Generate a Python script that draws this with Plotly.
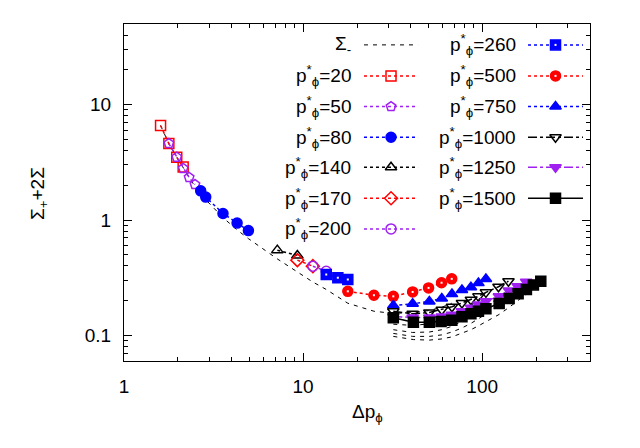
import plotly.graph_objects as go

# ---------------------------------------------------------------------------
# Data
# ---------------------------------------------------------------------------

dp_20 = [1.60, 1.78, 1.97, 2.14]
sig_20 = [6.6, 4.6, 3.5, 2.88]

dp_50 = [1.78, 1.97, 2.14, 2.31, 2.49]
sig_50 = [4.6, 3.5, 2.8, 2.34, 2.03]

dp_80 = [2.68, 2.86, 3.57, 4.28, 4.95]
sig_80 = [1.79, 1.58, 1.14, 0.94, 0.81]

dp_140 = [7.18, 9.29]
sig_140 = [0.548, 0.493]

dp_170 = [9.29, 11.34]
sig_170 = [0.449, 0.398]

dp_200 = [11.34, 13.47]
sig_200 = [0.398, 0.36]

dp_260 = [13.47, 15.63, 17.77]
sig_260 = [0.337, 0.316, 0.305]

dp_500 = [17.77, 24.86, 31.9, 40.9, 50.2, 59.3, 67.6]
sig_500 = [0.241, 0.223, 0.218, 0.238, 0.258, 0.286, 0.309]

dp_750 = [31.9, 40.9, 50.7, 59.5, 67.8, 77.1, 86.5, 95.3, 104.9]
sig_750 = [0.182, 0.188, 0.197, 0.209, 0.228, 0.247, 0.262, 0.284, 0.308]

dp_1000 = [31.9, 40.9, 50.7, 59.5, 67.8, 77.1, 86.5, 95.3, 104.9, 123.3, 140.2]
sig_1000 = [0.162, 0.154, 0.158, 0.167, 0.177, 0.191, 0.204, 0.218, 0.236, 0.264, 0.295]

dp_1250 = [31.9, 40.9, 50.7, 59.5, 67.8, 77.1, 86.5, 95.3, 104.9, 124.0, 141.0, 158.0, 176.0]
sig_1250 = [0.146, 0.143, 0.143, 0.146, 0.151, 0.162, 0.174, 0.185, 0.198, 0.218, 0.245, 0.267, 0.291]

dp_1500 = [31.9, 41.3, 50.7, 58.9, 67.7, 77.1, 86.5, 95.3, 104.9, 124.4, 141.4, 158.7, 176.6, 193.2, 212.4]
sig_1500 = [0.142, 0.130, 0.130, 0.132, 0.135, 0.145, 0.154, 0.162, 0.170, 0.189, 0.209, 0.229, 0.250, 0.274, 0.295]

# Sigma_- curves (dashed black)
dp_minus = [1.60, 1.78, 1.97, 2.14, 2.31, 2.49, 2.68, 2.86, 3.57, 4.28, 4.95,
            7.18, 9.29, 11.34, 13.47, 15.63, 17.77, 24.86, 31.9, 40.9, 50.2, 59.3, 67.6]
sig_minus = [6.6, 4.6, 3.5, 2.85, 2.3, 1.95, 1.7, 1.5, 1.05, 0.82, 0.69,
             0.46, 0.355, 0.29, 0.25, 0.215, 0.19, 0.162, 0.155, 0.158, 0.164, 0.175, 0.19]

dp_minus_750 = [31.9, 40.9, 50.7, 59.5, 67.8, 77.1, 86.5, 95.3, 104.9]
sig_minus_750 = [0.125, 0.122, 0.126, 0.134, 0.146, 0.162, 0.18, 0.205, 0.235]

dp_minus_1000 = [31.9, 40.9, 50.7, 59.5, 67.8, 77.1, 86.5, 95.3, 104.9, 123.3, 140.2]
sig_minus_1000 = [0.112, 0.106, 0.107, 0.112, 0.12, 0.132, 0.145, 0.16, 0.178, 0.212, 0.25]

dp_minus_1250 = [31.9, 40.9, 50.7, 59.5, 67.8, 77.1, 86.5, 95.3, 104.9, 124.0, 141.0, 158.0, 176.0]
sig_minus_1250 = [0.104, 0.098, 0.098, 0.101, 0.107, 0.116, 0.127, 0.139, 0.153, 0.18, 0.212, 0.24, 0.27]

dp_minus_1500 = [31.9, 41.3, 50.7, 58.9, 67.7, 77.1, 86.5, 95.3, 104.9, 124.4, 141.4, 158.7, 176.6, 193.2, 212.4]
sig_minus_1500 = [0.098, 0.092, 0.091, 0.093, 0.097, 0.104, 0.112, 0.121, 0.131, 0.152, 0.175, 0.2, 0.226, 0.255, 0.285]

x_ticks = [1, 10, 100]
y_ticks = [0.1, 1, 10]

# ---------------------------------------------------------------------------
# Styles
# ---------------------------------------------------------------------------

RED = "#ff0000"
PURPLE = "#a020f0"
BLUE = "#0000ff"
BLACK = "#000000"
FONT = "Liberation Sans, Arial, sans-serif"
FS = 19

PS = "p<sup>*</sup><sub>\u03d5</sub>="

series = [
    # (label, x, y, color, dash, symbol, legend column, legend row, white centre)
    ("20", dp_20, sig_20, RED, "dot", "square-open", 0, 1, False),
    ("50", dp_50, sig_50, PURPLE, "dot", "pentagon-open", 0, 2, False),
    ("80", dp_80, sig_80, BLUE, "dot", "circle", 0, 3, False),
    ("140", dp_140, sig_140, BLACK, "dot", "triangle-up-open", 0, 4, False),
    ("170", dp_170, sig_170, RED, "dot", "diamond-open", 0, 5, False),
    ("200", dp_200, sig_200, PURPLE, "dot", "circle-open", 0, 6, False),
    ("260", dp_260, sig_260, BLUE, "dot", "square", 1, 0, True),
    ("500", dp_500, sig_500, RED, "dot", "circle", 1, 1, True),
    ("750", dp_750, sig_750, BLUE, "dot", "triangle-up", 1, 2, False),
    ("1000", dp_1000, sig_1000, BLACK, "dashdot", "triangle-down-open", 1, 3, False),
    ("1250", dp_1250, sig_1250, PURPLE, "dashdot", "triangle-down", 1, 4, False),
    ("1500", dp_1500, sig_1500, BLACK, "solid", "square", 1, 5, False),
]

minus_curves = [
    (dp_minus, sig_minus),
    (dp_minus_750, sig_minus_750),
    (dp_minus_1000, sig_minus_1000),
    (dp_minus_1250, sig_minus_1250),
    (dp_minus_1500, sig_minus_1500),
]

fig = go.Figure()

for xs, ys in minus_curves:
    fig.add_trace(go.Scatter(
        x=xs, y=ys, mode="lines",
        line=dict(color=BLACK, width=1, dash="4px,5px"),
        showlegend=False, hoverinfo="skip",
    ))

for label, xs, ys, color, dash, symbol, _, _, white in series:
    fig.add_trace(go.Scatter(
        x=xs, y=ys, mode="lines+markers",
        line=dict(color=color, width=1.5, dash=dash),
        marker=dict(symbol=symbol, size=10, color=color,
                    line=dict(color=color, width=1.5)),
        name=label, showlegend=False,
    ))
    if white:
        fig.add_trace(go.Scatter(
            x=xs, y=ys, mode="markers",
            marker=dict(symbol="square", size=2, color="white", line=dict(width=0)),
            showlegend=False, hoverinfo="skip",
        ))

# ---------------------------------------------------------------------------
# Gnuplot-style key drawn on an overlay axis (0..1 over the plot area)
# ---------------------------------------------------------------------------

row_y = [0.938, 0.846, 0.755, 0.664, 0.575, 0.483, 0.392]
col_line = [(0.515, 0.631), (0.867, 0.985)]
col_text = [0.492, 0.845]

key_entries = [("\u03a3<sub>-</sub>", BLACK, "4px,5px", None, 0, 0, False)]
key_entries += [(PS + s[0], s[3], s[4], s[5], s[6], s[7], s[8]) for s in series]

for text, color, dash, symbol, col, row, white in key_entries:
    x0, x1 = col_line[col]
    y = row_y[row]
    fig.add_trace(go.Scatter(
        x=[x0, x1], y=[y, y], mode="lines",
        line=dict(color=color, width=1 if symbol is None else 1.5, dash=dash),
        xaxis="x2", yaxis="y2", showlegend=False, hoverinfo="skip",
    ))
    if symbol is not None:
        fig.add_trace(go.Scatter(
            x=[(x0 + x1) / 2], y=[y], mode="markers",
            marker=dict(symbol=symbol, size=10, color=color,
                        line=dict(color=color, width=1.5)),
            xaxis="x2", yaxis="y2", showlegend=False, hoverinfo="skip",
        ))
    if white:
        fig.add_trace(go.Scatter(
            x=[(x0 + x1) / 2], y=[y], mode="markers",
            marker=dict(symbol="square", size=2, color="white", line=dict(width=0)),
            xaxis="x2", yaxis="y2", showlegend=False, hoverinfo="skip",
        ))
    fig.add_annotation(
        x=col_text[col], y=y, xref="x2", yref="y2", text=text,
        showarrow=False, xanchor="right", yanchor="middle",
        font=dict(size=FS, color=BLACK, family=FONT),
    )

# axis titles as annotations so they sit where gnuplot put them
fig.add_annotation(
    x=0.522, y=-0.153, xref="paper", yref="paper", text="\u0394p<sub>\u03d5</sub>",
    showarrow=False, xanchor="center", yanchor="middle",
    font=dict(size=FS, color=BLACK, family=FONT),
)
fig.add_annotation(
    x=-0.182, y=0.496, xref="paper", yref="paper", text="\u03a3<sub>+</sub>+2\u03a3",
    showarrow=False, xanchor="center", yanchor="middle", textangle=-90,
    font=dict(size=FS, color=BLACK, family=FONT),
)

axis_common = dict(
    type="log", showline=True, linecolor=BLACK, linewidth=1, mirror="ticks",
    ticks="inside", ticklen=8, tickcolor=BLACK, showgrid=False, zeroline=False,
    automargin=False, tickfont=dict(size=FS, family=FONT, color=BLACK),
)

x_minor = [v * d for d in (1, 10, 100) for v in range(2, 10) if v * d <= 400]
y_minor = [v * d for d in (0.01, 0.1, 1, 10) for v in range(2, 10) if 0.06 <= v * d <= 50]

# the page body adds an 8px offset, so the margins are pulled in by that much
fig.update_layout(
    width=640, height=448,
    margin=dict(l=116, r=58, t=16, b=94.6),
    paper_bgcolor="white", plot_bgcolor="white",
    font=dict(family=FONT, size=FS, color=BLACK),
    xaxis=dict(
        range=[0, 2.602], tickvals=x_ticks, ticktext=["1", "10", "100"],
        minor=dict(tickvals=x_minor, ticks="inside", ticklen=4, tickcolor=BLACK),
        ticklabelstandoff=8,
        **axis_common,
    ),
    yaxis=dict(
        range=[-1.222, 1.699], tickvals=y_ticks, ticktext=["0.1", "1", "10"],
        minor=dict(tickvals=y_minor, ticks="inside", ticklen=4, tickcolor=BLACK),
        ticklabelstandoff=8,
        **axis_common,
    ),
    xaxis2=dict(overlaying="x", range=[0, 1], visible=False, fixedrange=True),
    yaxis2=dict(overlaying="y", range=[0, 1], visible=False, fixedrange=True),
)

fig.write_html("out.html")
